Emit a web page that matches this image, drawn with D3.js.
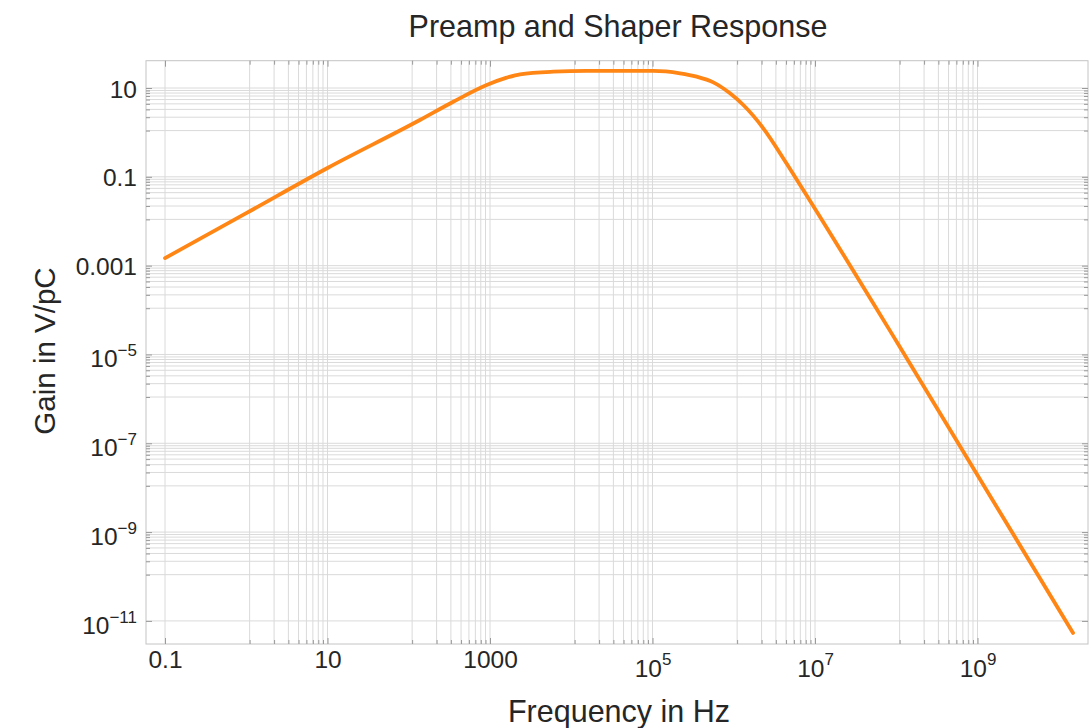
<!DOCTYPE html>
<html>
<head>
<meta charset="utf-8">
<script src="https://cdn.jsdelivr.net/npm/d3@7"></script>
<style>
  body { margin: 0; background: #fff; }
  text { font-family: "Liberation Sans", Arial, Helvetica, sans-serif; fill: #262626; }
</style>
</head>
<body>
<script>
// curve: frequency (Hz) and gain (V/pC)
var freq = [0.1, 1, 10, 137, 353, 910, 1607, 2339, 6012, 15490, 102300, 217800, 349900,
            559800, 899500, 1.312e6, 2.31e6, 4.49e6, 6.53e6, 1e8, 1.346e9, 1.5e10];
var gain = [1.48e-3, 0.0152, 0.158, 1.90, 4.91, 11.7, 17.1, 20.4, 23.3, 24.2, 24.2, 21.4, 18.0,
            13.4, 7.60, 4.14, 1.24, 0.197, 0.0665, 2.01e-5, 7.8e-9, 5.35e-12];

// labelled ticks
var xTicks = [0.1, 10, 1000, 1e5, 1e7, 1e9];
var xTickLabels = [["0.1"], ["10"], ["1000"], ["10", "5"], ["10", "7"], ["10", "9"]];
var yTicks = [10, 0.1, 0.001, 1e-5, 1e-7, 1e-9, 1e-11];
var yTickLabels = [["10"], ["0.1"], ["0.001"], ["10", "\u22125"], ["10", "\u22127"], ["10", "\u22129"], ["10", "\u221211"]];

// minor grid steps in the decade just under each labelled tick (not the lowest one)
var minorSteps = [1.1, 2.2, 3.3, 4.4, 5.5, 6.6, 7.7, 8.8];

var W = 1089, H = 728;
var pL = 146, pR = 1088, pT = 60.7, pB = 644;

var svg = d3.select("body").append("svg")
        .attr("width", W)
        .attr("height", H);

var x = d3.scaleLog()
        .domain([Math.pow(10, -1.234), Math.pow(10, 10.36)])
        .range([pL, pR]);

var y = d3.scaleLog()
        .domain([Math.pow(10, -11.52), Math.pow(10, 1.615)])
        .range([pB, pT]);

function minors(ticks) {
    var lowest = d3.min(ticks);
    var out = [];
    ticks.forEach(function(t) {
        if (t === lowest) return;
        minorSteps.forEach(function(s) { out.push(s * t / 10); });
    });
    return out;
}
var xMinor = minors(xTicks);
var yMinor = minors(yTicks);

// grid
var grid = svg.append("g").attr("class", "grid")
        .attr("stroke", "#dadada")
        .attr("stroke-width", 1);

grid.selectAll("line.v")
        .data(xTicks.concat(xMinor))
    .enter().append("line")
        .attr("class", "v")
        .attr("x1", function(d) { return x(d); })
        .attr("x2", function(d) { return x(d); })
        .attr("y1", pT)
        .attr("y2", pB);

grid.selectAll("line.h")
        .data(yTicks.concat(yMinor))
    .enter().append("line")
        .attr("class", "h")
        .attr("x1", pL)
        .attr("x2", pR)
        .attr("y1", function(d) { return y(d); })
        .attr("y2", function(d) { return y(d); });

// frame
svg.append("rect")
        .attr("x", pL)
        .attr("y", pT)
        .attr("width", pR - pL)
        .attr("height", pB - pT)
        .attr("fill", "none")
        .attr("stroke", "#c4c4c4");

// frame ticks (inward), minor ones shorter
function tickSide(axis, tr, vals, size) {
    var g = svg.append("g")
            .attr("transform", tr)
            .call(axis.tickValues(vals).tickSizeInner(size).tickSizeOuter(0).tickFormat(""));
    g.select(".domain").remove();
    g.selectAll("line").attr("stroke", "#9a9a9a");
    return g;
}
tickSide(d3.axisBottom(x), "translate(0," + pB + ")", xMinor, -4);
tickSide(d3.axisTop(x), "translate(0," + pT + ")", xMinor, -4);
tickSide(d3.axisLeft(y), "translate(" + pL + ",0)", yMinor, -4);
tickSide(d3.axisRight(y), "translate(" + pR + ",0)", yMinor, -4);
tickSide(d3.axisTop(x), "translate(0," + pT + ")", xTicks, -6);
tickSide(d3.axisRight(y), "translate(" + pR + ",0)", yTicks, -6);

// labelled axes
function putLabel(sel, parts, baseY, supDy) {
    sel.text(null).attr("y", baseY).attr("dy", 0);
    sel.append("tspan").text(parts[0]);
    if (parts[1]) {
        sel.append("tspan")
            .attr("dy", supDy)
            .style("font-size", "17px")
            .text(parts[1]);
    }
}

var xAxisG = svg.append("g")
        .attr("transform", "translate(0," + pB + ")")
        .call(d3.axisBottom(x).tickValues(xTicks).tickSizeInner(-6).tickSizeOuter(0));
xAxisG.select(".domain").remove();
xAxisG.selectAll("line").attr("stroke", "#9a9a9a");
xAxisG.selectAll("text")
        .style("font-size", "24.5px")
        .attr("fill", "#262626")
        .each(function(d, i) {
            var parts = xTickLabels[i];
            putLabel(d3.select(this), parts, parts[1] ? 33 : 24, -12);
        });

var yAxisG = svg.append("g")
        .attr("transform", "translate(" + pL + ",0)")
        .call(d3.axisLeft(y).tickValues(yTicks).tickSizeInner(-6).tickSizeOuter(0));
yAxisG.select(".domain").remove();
yAxisG.selectAll("line").attr("stroke", "#9a9a9a");
yAxisG.selectAll("text")
        .style("font-size", "24.5px")
        .attr("fill", "#262626")
        .attr("x", -9)
        .each(function(d, i) {
            var parts = yTickLabels[i];
            putLabel(d3.select(this), parts, parts[1] ? 12.5 : 9, -11);
        });

// response curve
var line = d3.line()
        .x(function(d) { return x(d[0]); })
        .y(function(d) { return y(d[1]); })
        .curve(d3.curveMonotoneX);

svg.append("path")
        .datum(d3.zip(freq, gain))
        .attr("fill", "none")
        .attr("stroke", "#ff8614")
        .attr("stroke-width", 3.8)
        .attr("stroke-linecap", "round")
        .attr("stroke-linejoin", "round")
        .attr("d", line);

// titles
svg.append("text")
        .attr("x", 618)
        .attr("y", 37)
        .style("text-anchor", "middle")
        .style("font-size", "30.5px")
        .text("Preamp and Shaper Response");

svg.append("text")
        .attr("x", 619)
        .attr("y", 722)
        .style("text-anchor", "middle")
        .style("font-size", "30.5px")
        .text("Frequency in Hz");

svg.append("text")
        .attr("transform", "translate(55,351) rotate(-90)")
        .style("text-anchor", "middle")
        .style("font-size", "29.5px")
        .text("Gain in V/pC");
</script>
</body>
</html>
